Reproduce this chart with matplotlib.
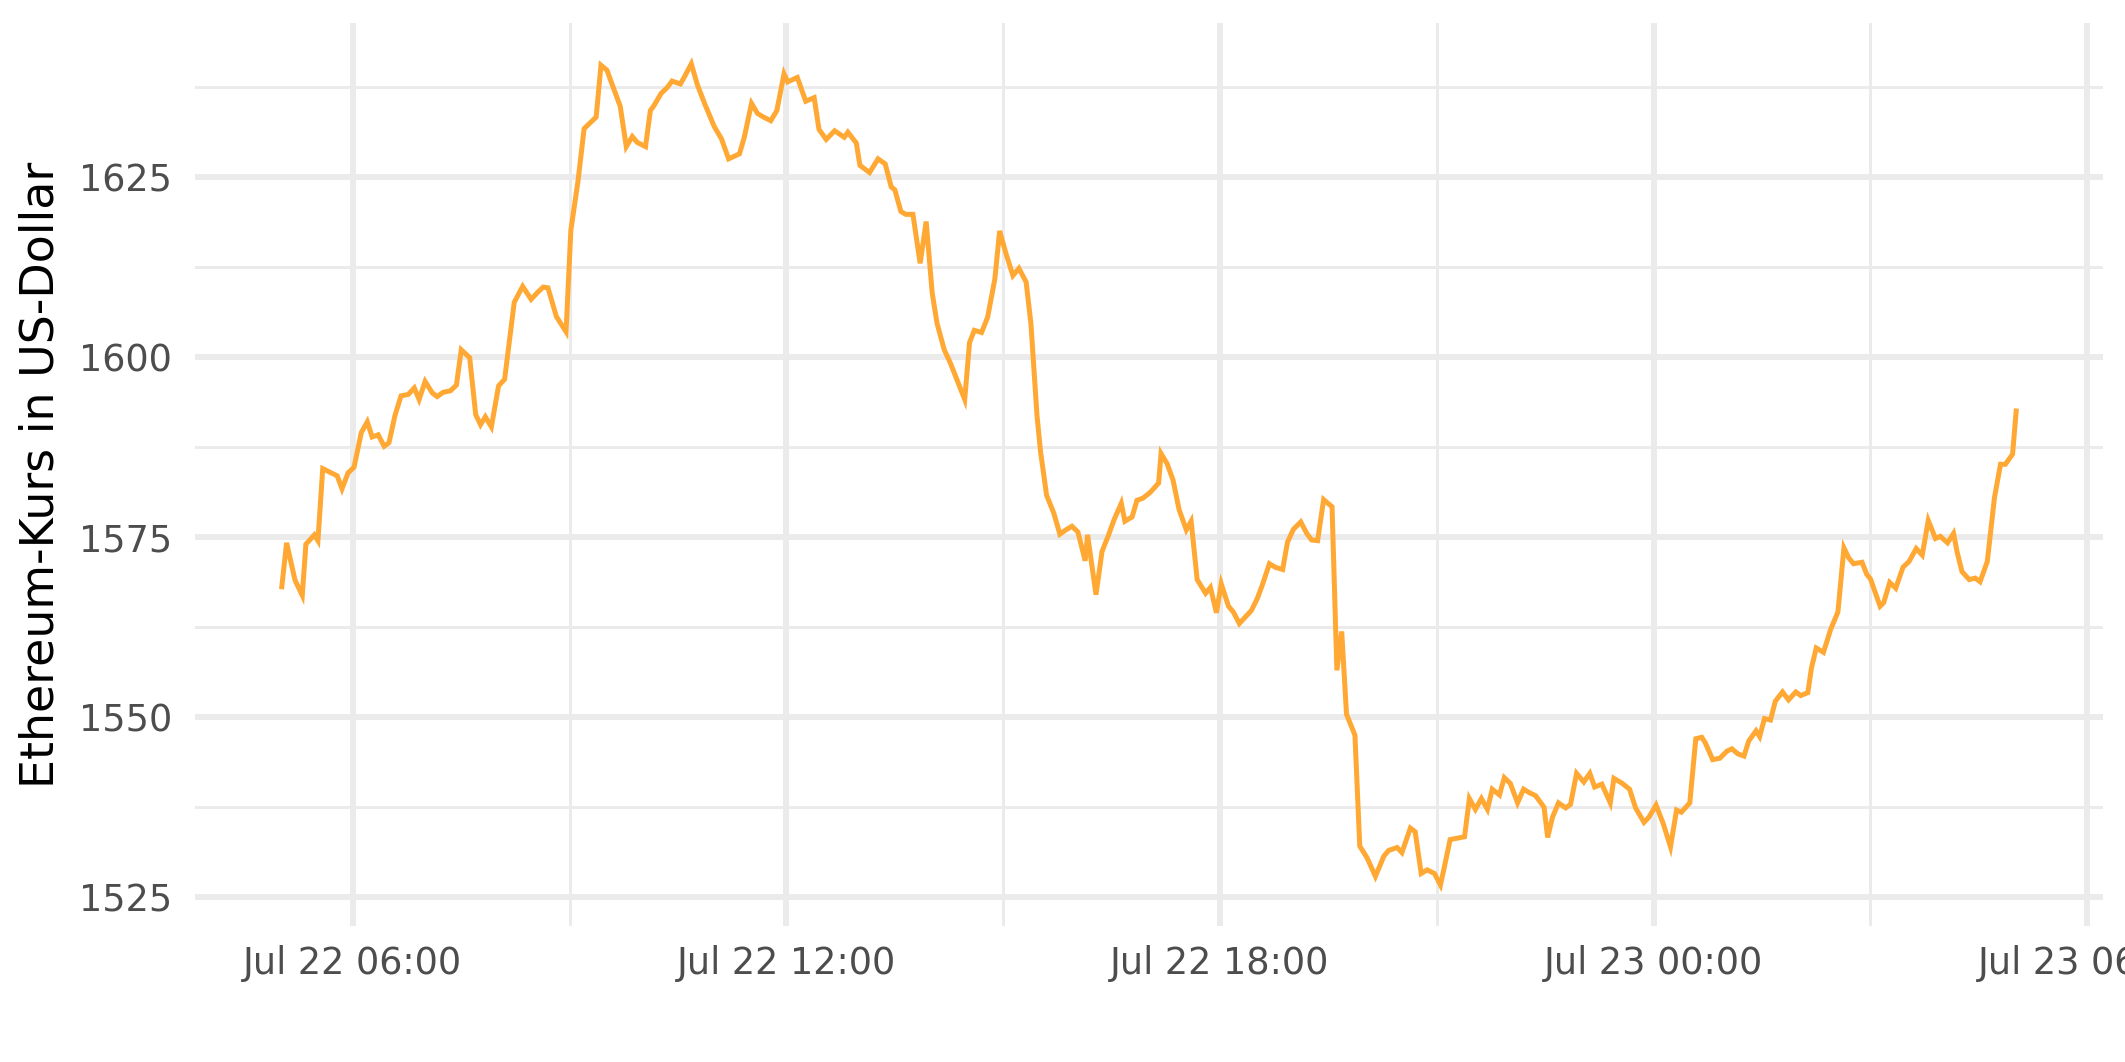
import matplotlib
matplotlib.use('Agg')
import matplotlib.pyplot as plt
import matplotlib.dates as mdates
from matplotlib.ticker import MultipleLocator
import pandas as pd

# Ethereum price, 22./23. Juli (ca. 5-Minuten-Werte)
uhrzeit = [
    "05:01", "05:05", "05:12", "05:18", "05:21", "05:28", "05:31", "05:35", "05:41", "05:47",
    "05:51", "05:56", "06:01", "06:07", "06:12", "06:16", "06:21", "06:26", "06:30", "06:35",
    "06:40", "06:46", "06:51", "06:55", "07:00", "07:06", "07:10", "07:15", "07:21", "07:26",
    "07:30", "07:37", "07:42", "07:46", "07:50", "07:55", "08:01", "08:06", "08:14", "08:21",
    "08:28", "08:33", "08:38", "08:42", "08:49", "08:57", "09:01", "09:07", "09:12", "09:17",
    "09:22", "09:26", "09:31", "09:36", "09:42", "09:47", "09:52", "09:56", "10:03", "10:07",
    "10:10", "10:16", "10:21", "10:25", "10:32", "10:35", "10:41", "10:46", "10:52", "11:00",
    "11:06", "11:12", "11:21", "11:25", "11:31", "11:36", "11:41", "11:47", "11:52", "11:58",
    "12:01", "12:09", "12:16", "12:23", "12:27", "12:33", "12:40", "12:48", "12:51", "12:58",
    "13:01", "13:09", "13:16", "13:22", "13:27", "13:30", "13:35", "13:39", "13:45", "13:51",
    "13:56", "14:01", "14:05", "14:11", "14:16", "14:28", "14:32", "14:36", "14:42", "14:47",
    "14:53", "14:57", "15:02", "15:08", "15:13", "15:19", "15:23", "15:28", "15:31", "15:36",
    "15:42", "15:47", "15:52", "15:57", "16:02", "16:08", "16:10", "16:17", "16:22", "16:27",
    "16:32", "16:38", "16:41", "16:47", "16:51", "16:56", "17:02", "17:09", "17:11", "17:16",
    "17:21", "17:26", "17:32", "17:36", "17:41", "17:48", "17:52", "17:57", "18:01", "18:07",
    "18:11", "18:16", "18:21", "18:26", "18:31", "18:35", "18:41", "18:46", "18:52", "18:56",
    "19:01", "19:07", "19:12", "19:16", "19:21", "19:26", "19:33", "19:37", "19:41", "19:45",
    "19:52", "19:56", "20:02", "20:09", "20:16", "20:20", "20:27", "20:31", "20:38", "20:42",
    "20:47", "20:52", "20:58", "21:03", "21:07", "21:11", "21:17", "21:23", "21:27", "21:32",
    "21:37", "21:42", "21:46", "21:52", "21:56", "22:01", "22:07", "22:12", "22:17", "22:22",
    "22:29", "22:32", "22:36", "22:41", "22:47", "22:51", "22:56", "23:02", "23:07", "23:11",
    "23:17", "23:24", "23:27", "23:34", "23:40", "23:45", "23:52", "23:56", "00:02", "00:08",
    "00:14", "00:19", "00:23", "00:30", "00:35", "00:40", "00:43", "00:49", "00:55", "01:01",
    "01:05", "01:10", "01:15", "01:19", "01:25", "01:28", "01:32", "01:37", "01:41", "01:47",
    "01:52", "01:58", "02:02", "02:08", "02:11", "02:15", "02:21", "02:27", "02:33", "02:38",
    "02:42", "02:46", "02:53", "02:57", "03:00", "03:08", "03:11", "03:16", "03:21", "03:27",
    "03:32", "03:38", "03:43", "03:48", "03:54", "03:58", "04:04", "04:09", "04:12", "04:16",
    "04:22", "04:27", "04:31", "04:37", "04:43", "04:48", "04:52", "04:58", "05:01",
]
kurs = [
    1568.1, 1574.2, 1569.0, 1566.9, 1574.0, 1575.3, 1574.5, 1584.5, 1584.0, 1583.5,
    1581.7, 1583.9, 1584.7, 1589.5, 1591.0, 1588.9, 1589.2, 1587.6, 1588.1, 1591.9,
    1594.6, 1594.8, 1595.7, 1594.1, 1596.6, 1595.0, 1594.5, 1595.1, 1595.3, 1596.1,
    1601.0, 1599.9, 1592.0, 1590.6, 1591.7, 1590.3, 1596.0, 1596.9, 1607.6, 1609.8,
    1608.0, 1608.9, 1609.7, 1609.6, 1605.6, 1603.5, 1617.6, 1624.5, 1631.7, 1632.5,
    1633.3, 1640.5, 1639.8, 1637.5, 1634.8, 1629.2, 1630.6, 1629.8, 1629.2, 1634.2,
    1634.9, 1636.6, 1637.4, 1638.3, 1637.9, 1638.8, 1640.7, 1637.8, 1635.2, 1632.0,
    1630.3, 1627.5, 1628.2, 1630.5, 1635.2, 1633.8, 1633.3, 1632.8, 1634.2, 1639.3,
    1638.2, 1638.8, 1635.5, 1636.0, 1631.6, 1630.2, 1631.4, 1630.5, 1631.2, 1629.7,
    1626.6, 1625.6, 1627.5, 1626.8, 1623.6, 1623.2, 1620.2, 1619.8, 1619.8, 1613.0,
    1618.8, 1608.9, 1604.7, 1601.0, 1599.2, 1594.1, 1602.0, 1603.7, 1603.4, 1605.5,
    1610.8, 1617.5, 1614.5, 1611.3, 1612.3, 1610.4, 1604.6, 1591.9, 1586.8, 1580.8,
    1578.3, 1575.4, 1576.0, 1576.5, 1575.7, 1571.7, 1575.3, 1567.0, 1573.0, 1575.1,
    1577.4, 1579.7, 1577.2, 1577.8, 1580.1, 1580.4, 1581.2, 1582.5, 1586.6, 1585.2,
    1582.9, 1578.8, 1576.0, 1577.2, 1569.1, 1567.2, 1568.0, 1564.5, 1568.5, 1565.4,
    1564.6, 1563.0, 1563.9, 1564.8, 1566.5, 1568.3, 1571.3, 1570.8, 1570.5, 1574.3,
    1576.1, 1577.1, 1575.5, 1574.6, 1574.5, 1580.2, 1579.2, 1556.5, 1561.9, 1550.4,
    1547.5, 1532.1, 1530.5, 1527.9, 1530.7, 1531.5, 1531.9, 1531.2, 1534.6, 1534.1,
    1528.3, 1528.8, 1528.3, 1526.7, 1529.8, 1533.0, 1533.2, 1533.4, 1538.7, 1537.2,
    1538.7, 1537.2, 1540.0, 1539.2, 1541.6, 1540.8, 1538.1, 1540.0, 1539.5, 1539.1,
    1537.5, 1533.3, 1536.1, 1538.1, 1537.4, 1537.9, 1542.2, 1541.0, 1542.2, 1540.3,
    1540.7, 1538.1, 1541.5, 1540.8, 1540.0, 1537.4, 1535.4, 1536.1, 1537.8, 1535.2,
    1532.0, 1537.1, 1536.8, 1538.1, 1547.0, 1547.2, 1546.4, 1544.1, 1544.3, 1545.3,
    1545.6, 1544.9, 1544.6, 1546.7, 1548.1, 1547.3, 1549.8, 1549.6, 1552.2, 1553.5,
    1552.4, 1553.5, 1553.0, 1553.4, 1556.8, 1559.6, 1559.0, 1562.2, 1564.6, 1573.5,
    1572.1, 1571.3, 1571.5, 1569.8, 1569.2, 1565.4, 1565.9, 1568.7, 1567.9, 1570.8,
    1571.6, 1573.4, 1572.5, 1577.3, 1574.8, 1575.1, 1574.2, 1575.5, 1572.9, 1570.2,
    1569.1, 1569.3, 1568.8, 1571.6, 1580.5, 1585.1, 1585.1, 1586.5, 1592.5,
]

# build timestamps, rolling over to the next day after midnight
zeiten = []
tag = pd.Timestamp("2022-07-22")
vorher = None
for u in uhrzeit:
    t = pd.Timestamp(f"{tag.date()} {u}")
    if vorher is not None and t < vorher:
        tag = tag + pd.Timedelta(days=1)
        t = pd.Timestamp(f"{tag.date()} {u}")
    zeiten.append(t)
    vorher = t

fig = plt.figure(figsize=(2125 / 300, 1062 / 300), dpi=300)
ax = fig.add_axes([0.0918, 0.128, 0.8978, 0.8506])

ax.plot(zeiten, kurs, color='#FFA833', linewidth=1.2, solid_joinstyle='miter')

# ggplot-like 5% expansion
x = mdates.date2num(zeiten)
dx = 0.05 * (x.max() - x.min())
ax.set_xlim(x.min() - dx, x.max() + dx)
dy = 0.05 * (max(kurs) - min(kurs))
ax.set_ylim(min(kurs) - dy, max(kurs) + dy)

ax.xaxis.set_major_locator(mdates.HourLocator(byhour=[0, 6, 12, 18]))
ax.xaxis.set_minor_locator(mdates.HourLocator(byhour=[3, 9, 15, 21]))
ax.xaxis.set_major_formatter(mdates.DateFormatter('%b %d %H:%M'))
ax.yaxis.set_major_locator(MultipleLocator(25))
ax.yaxis.set_minor_locator(MultipleLocator(12.5))

ax.set_axisbelow(True)
ax.grid(which='major', color='#EBEBEB', linewidth=1.42)
ax.grid(which='minor', color='#EBEBEB', linewidth=0.71)
for s in ax.spines.values():
    s.set_visible(False)

ax.tick_params(which='both', length=0)
ax.tick_params(axis='both', labelsize=8.8, labelcolor='#4D4D4D')
ax.tick_params(axis='y', pad=5.5)
ax.tick_params(axis='x', pad=4.5)

ax.set_ylabel('Ethereum-Kurs in US-Dollar', fontsize=11, color='black', va='center')
ax.yaxis.set_label_coords(-0.081, 0.5)

fig.savefig('out.png', dpi=300)
